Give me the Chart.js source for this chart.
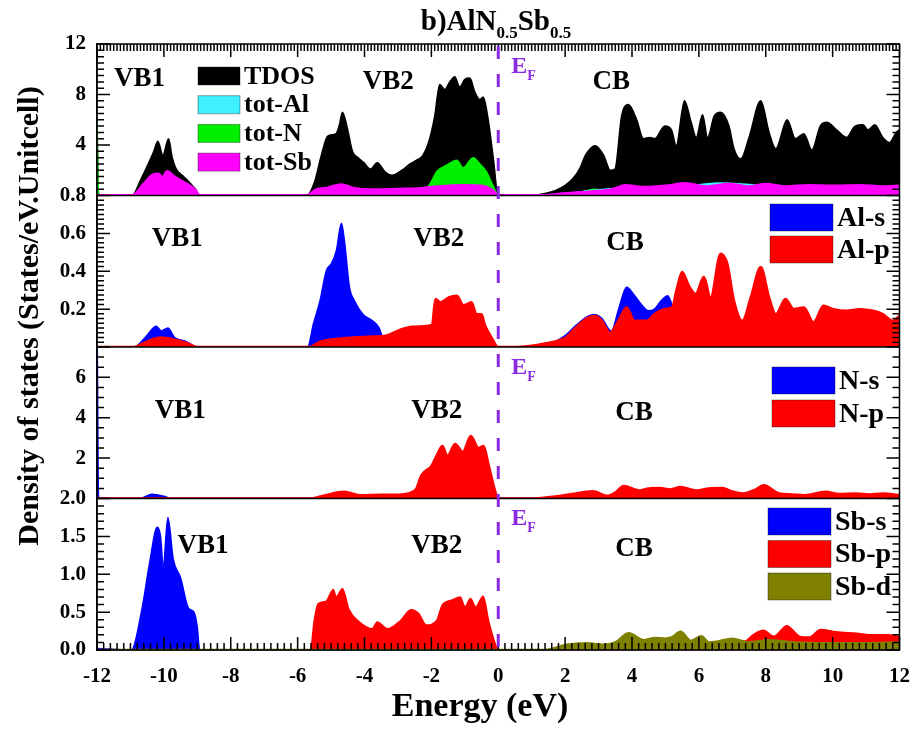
<!DOCTYPE html>
<html>
<head>
<meta charset="utf-8">
<script src="https://cdn.jsdelivr.net/npm/chart.js@4.4.0/dist/chart.umd.min.js"></script>
<style>
  html, body { margin: 0; padding: 0; background: #fff; }
  #wrap { width: 924px; height: 733px; }
</style>
</head>
<body>
<div id="wrap"><canvas id="dos" width="924" height="733"></canvas></div>
<script>
// energy ticks (eV)
const energyTicks = [-12, -10, -8, -6, -4, -2, 0, 2, 4, 6, 8, 10, 12];

// panel 1: total DOS, [energy, states]
const tdos = [[-12,5.8],[-11.95,0],[-10.95,0],[-10.7,1.2],[-10.45,2.6],[-10.3,3.5],[-10.18,4.3],[-10.03,3.2],[-9.86,4.5],[-9.75,3.0],[-9.63,2.1],[-9.45,1.6],[-9.33,1.3],[-9.15,0.8],[-9.05,0.5],[-8.95,0],
  [-5.72,0],[-5.49,1.1],[-5.29,3.2],[-5.1,4.7],[-4.85,4.9],[-4.75,5.6],[-4.66,6.6],[-4.51,5.3],[-4.36,3.5],[-4.2,3.0],[-4.02,2.6],[-3.82,2.1],[-3.62,2.6],[-3.38,1.85],[-3.18,1.6],[-2.88,2.0],[-2.64,2.5],[-2.44,2.8],[-2.25,3.2],[-2.05,4.5],[-1.9,6.3],[-1.75,8.8],[-1.6,8.4],[-1.45,9.0],[-1.3,9.4],[-1.15,8.6],[-1.0,9.2],[-0.85,9.3],[-0.7,8.2],[-0.55,7.6],[-0.45,7.8],[-0.3,6.0],[-0.15,3.0],[0,0],
  [1.0,0],[1.4,0.15],[1.72,0.4],[2.0,0.8],[2.22,1.3],[2.45,2.2],[2.61,3.2],[2.9,3.95],[3.15,3.2],[3.35,2.0],[3.49,2.1],[3.69,6.3],[3.89,7.2],[4.14,6.0],[4.34,4.5],[4.53,4.6],[4.68,4.5],[4.98,5.5],[5.18,5.2],[5.32,3.95],[5.57,7.5],[5.77,5.8],[5.92,4.6],[6.11,6.4],[6.26,4.6],[6.46,6.3],[6.65,6.6],[6.9,5.5],[7.05,3.7],[7.25,2.9],[7.5,4.6],[7.85,7.5],[8.1,5.0],[8.3,3.7],[8.64,6.0],[8.89,4.5],[9.14,4.9],[9.38,3.6],[9.63,5.5],[9.83,5.8],[10.12,5.2],[10.42,4.6],[10.67,5.5],[10.91,5.6],[11.06,5.2],[11.26,5.6],[11.5,4.6],[11.7,4.2],[11.9,5.0],[12,5.2]];
const totAl = [[-12,0],[-10.9,0],[-10.1,0.3],[-9.0,0],[-5.7,0],[-4.7,0.6],[-3.5,0.3],[-2.0,0.4],[-0.5,0.4],[0,0],[1.5,0],[2.8,0.4],[3.8,0.6],[5.0,0.6],[6.6,1.0],[7.8,0.8],[9.0,0.6],[10.0,0.6],[12,0.5]];
const totN = [[-12,5.8],[-11.95,0],[-10.9,0],[-10.2,0.15],[-9.0,0],[-5.7,0],[-5.3,0.2],[-4.6,0.35],[-4.0,0.2],[-3.0,0.25],[-2.45,0.3],[-2.13,0.6],[-1.98,1.2],[-1.84,1.9],[-1.54,2.4],[-1.24,2.8],[-1.05,2.2],[-0.75,3.0],[-0.55,2.5],[-0.36,1.9],[-0.16,0.8],[0,0],[1.5,0],[2.5,0.3],[2.9,0.5],[3.3,0.3],[4.0,0.5],[5.0,0.5],[6.0,0.55],[6.6,0.9],[7.0,0.5],[8.0,0.6],[9.0,0.5],[10.0,0.5],[11.0,0.5],[12,0.5]];
const totSb = [[-12,0],[-10.95,0],[-10.6,0.9],[-10.35,1.6],[-10.15,1.7],[-10.05,1.4],[-9.9,1.9],[-9.7,1.5],[-9.45,1.1],[-9.25,0.8],[-9.05,0.4],[-8.95,0],[-5.72,0],[-5.45,0.45],[-5.1,0.6],[-4.7,0.85],[-4.3,0.55],[-3.8,0.45],[-3.0,0.5],[-2.3,0.55],[-1.8,0.7],[-1.0,0.8],[-0.5,0.75],[-0.2,0.45],[0,0],[1.3,0],[2.0,0.15],[2.8,0.3],[3.4,0.45],[3.8,0.8],[4.3,0.65],[5.0,0.75],[5.6,0.95],[6.2,0.7],[6.9,0.9],[7.5,0.7],[8.0,0.9],[8.6,0.7],[9.3,0.8],[10.0,0.75],[10.8,0.8],[11.5,0.7],[12,0.75]];

// panel 2: Al partial DOS
const alS = [[-12,0],[-10.9,0],[-10.52,0.058],[-10.23,0.11],[-10.08,0.085],[-9.88,0.1],[-9.68,0.05],[-9.34,0.03],[-9.0,0],[-5.7,0],[-5.53,0.12],[-5.33,0.244],[-5.14,0.404],[-4.99,0.44],[-4.84,0.51],[-4.69,0.653],[-4.6,0.56],[-4.45,0.316],[-4.3,0.244],[-4.05,0.173],[-3.76,0.138],[-3.56,0.1],[-3.46,0.05],[-3.3,0.03],[-2.0,0.03],[-0.5,0.02],[0,0],[1.0,0],[1.6,0.02],[2.0,0.06],[2.3,0.11],[2.7,0.164],[2.9,0.17],[3.1,0.15],[3.38,0.084],[3.6,0.2],[3.84,0.316],[4.08,0.271],[4.3,0.22],[4.48,0.191],[4.67,0.2],[4.87,0.244],[5.07,0.271],[5.27,0.18],[5.5,0.08],[6.5,0.06],[8.0,0.05],[10.0,0.05],[12,0.05]];
const alP = [[-12,0],[-10.9,0],[-10.5,0.03],[-10.1,0.05],[-9.7,0.04],[-9.3,0.02],[-9.0,0],[-5.65,0],[-5.33,0.028],[-4.7,0.045],[-3.9,0.054],[-3.36,0.06],[-2.96,0.089],[-2.57,0.107],[-1.98,0.116],[-1.88,0.253],[-1.73,0.236],[-1.48,0.262],[-1.24,0.27],[-1.04,0.22],[-0.8,0.236],[-0.65,0.173],[-0.5,0.173],[-0.4,0.116],[-0.2,0.05],[0,0],[0.55,0],[1.43,0.02],[2.0,0.048],[2.3,0.1],[2.7,0.156],[2.9,0.164],[3.1,0.138],[3.34,0.075],[3.59,0.138],[3.84,0.209],[4.08,0.138],[4.43,0.138],[4.67,0.173],[4.96,0.2],[5.2,0.209],[5.33,0.3],[5.5,0.396],[5.7,0.324],[5.9,0.28],[6.15,0.369],[6.35,0.26],[6.65,0.493],[6.85,0.44],[7.05,0.244],[7.3,0.138],[7.55,0.26],[7.85,0.422],[8.1,0.262],[8.3,0.173],[8.59,0.253],[8.84,0.2],[9.14,0.209],[9.43,0.13],[9.73,0.218],[10.02,0.2],[10.42,0.191],[10.81,0.2],[11.21,0.191],[11.5,0.173],[11.8,0.138],[12,0.164]];

// panel 3: N partial DOS
const nS = [[-12,7.5],[-11.96,0],[-10.7,0],[-10.35,0.2],[-10.0,0.1],[-9.8,0],[12,0]];
const nP = [[-12,0],[-5.6,0],[-5.2,0.15],[-4.61,0.33],[-4.14,0.16],[-3.5,0.18],[-2.9,0.2],[-2.6,0.3],[-2.45,0.49],[-2.3,1.14],[-1.99,1.63],[-1.82,2.2],[-1.67,2.6],[-1.52,2.1],[-1.29,2.7],[-1.06,2.3],[-0.82,3.1],[-0.59,2.5],[-0.44,2.6],[-0.28,1.6],[-0.05,0.15],[0.05,0],[1.1,0],[1.7,0.1],[2.2,0.22],[2.82,0.36],[3.28,0.13],[3.5,0.3],[3.75,0.62],[4.21,0.4],[4.5,0.5],[4.83,0.52],[5.15,0.45],[5.45,0.57],[5.92,0.4],[6.3,0.5],[6.7,0.52],[7.0,0.35],[7.32,0.25],[7.7,0.45],[7.94,0.65],[8.4,0.25],[8.8,0.2],[9.17,0.16],[9.79,0.33],[10.2,0.22],[10.72,0.25],[11.1,0.2],[11.5,0.25],[12,0.16]];

// panel 4: Sb partial DOS
const sbS = [[-12,0.02],[-10.97,0],[-10.66,0.53],[-10.43,1.14],[-10.2,1.62],[-10.1,1.5],[-10.02,1.1],[-9.88,1.75],[-9.72,1.2],[-9.5,0.95],[-9.26,0.55],[-9.1,0.5],[-9.0,0.3],[-8.93,0],[-5.7,0],[-3.0,0.02],[0,0],[12,0]];
const sbP = [[-12,0],[-5.62,0],[-5.5,0.4],[-5.39,0.61],[-5.16,0.64],[-4.93,0.8],[-4.85,0.7],[-4.66,0.81],[-4.46,0.53],[-4.15,0.37],[-3.77,0.28],[-3.62,0.37],[-3.31,0.28],[-2.92,0.39],[-2.61,0.53],[-2.38,0.48],[-2.15,0.33],[-1.84,0.39],[-1.68,0.59],[-1.37,0.66],[-1.14,0.7],[-0.99,0.57],[-0.83,0.68],[-0.68,0.57],[-0.45,0.71],[-0.29,0.39],[-0.14,0.15],[0.01,0],[1.5,0],[3.0,0.05],[5.0,0.08],[7.0,0.08],[7.16,0.11],[7.4,0.12],[7.62,0.2],[7.93,0.26],[8.24,0.18],[8.63,0.32],[9.02,0.18],[9.3,0.17],[9.64,0.27],[10.1,0.24],[10.72,0.22],[11.19,0.2],[11.65,0.2],[12,0.18]];
const sbD = [[-12,0],[1.4,0],[2.04,0.07],[2.66,0.09],[3.12,0.07],[3.5,0.1],[3.9,0.22],[4.36,0.13],[4.7,0.16],[4.98,0.15],[5.2,0.17],[5.45,0.24],[5.76,0.12],[6.07,0.18],[6.3,0.1],[6.53,0.11],[7.0,0.15],[7.46,0.1],[8.08,0.13],[8.85,0.1],[9.78,0.09],[11.02,0.09],[12,0.1]];

// y ticks shown per panel
const p1Ticks = [4, 8, 12];
const p2Ticks = [0.2, 0.4, 0.6, 0.8];
const p3Ticks = [2, 4, 6];
const p4Ticks = [0, 0.5, 1.0, 1.5, 2.0];

const SERIF = 'Liberation Serif, Times New Roman, serif';
const EF_COLOR = '#8a2be2';

function series(label, pts, color, axis, order, width) {
  return {
    label,
    data: pts.map(p => ({ x: p[0], y: p[1] })),
    yAxisID: axis,
    order,
    borderColor: color,
    backgroundColor: color,
    borderWidth: width || 1.5,
    fill: 'origin',
    pointRadius: 0,
    cubicInterpolationMode: 'monotone'
  };
}

function yAxis(min, max, ticks, digits) {
  return {
    type: 'linear',
    position: 'left',
    stack: 'dos',
    stackWeight: 1,
    min, max,
    afterBuildTicks: s => { s.ticks = ticks.map(v => ({ value: v })); },
    afterFit: s => { s.width = 97; },
    grid: { display: false, drawTicks: false },
    border: { color: '#000', width: 1.5 },
    ticks: {
      color: '#000', padding: 11, autoSkip: false,
      font: { family: SERIF, weight: 'bold', size: 21 },
      callback: v => digits ? Number(v).toFixed(digits) : String(v)
    }
  };
}

// legend entries per panel
const legends = [
  { x: 198, y: 67, w: 42, h: 18, step: 28.7, size: 26, items: [['TDOS', '#000000'], ['tot-Al', '#3ff0ff'], ['tot-N', '#00f000'], ['tot-Sb', '#ff00ff']] },
  { x: 770, y: 204, w: 63, h: 27, step: 32, size: 28, items: [['Al-s', '#0000ff'], ['Al-p', '#ff0000']] },
  { x: 772, y: 367, w: 63, h: 27, step: 33, size: 28, items: [['N-s', '#0000ff'], ['N-p', '#ff0000']] },
  { x: 768, y: 508, w: 63, h: 27, step: 32.5, size: 28, items: [['Sb-s', '#0000ff'], ['Sb-p', '#ff0000'], ['Sb-d', '#808000']] }
];

// band labels: [axis, text, energy, value]
const bandLabels = [
  ['d1', 'VB1', -10.73, 9.25], ['d1', 'VB2', -3.29, 9.0], ['d1', 'CB', 3.38, 9.0],
  ['d2', 'VB1', -9.6, 0.57], ['d2', 'VB2', -1.78, 0.57], ['d2', 'CB', 3.79, 0.55],
  ['d3', 'VB1', -9.51, 4.34], ['d3', 'VB2', -1.84, 4.34], ['d3', 'CB', 4.06, 4.24],
  ['d4', 'VB1', -8.83, 1.37], ['d4', 'VB2', -1.84, 1.37], ['d4', 'CB', 4.06, 1.33]
];
// Fermi level labels: [axis, value]
const efLabels = [['d1', 10.3], ['d3', 6.56], ['d4', 1.75]];

function richText(ctx, x, y, parts, size, color, align) {
  const subSize = Math.round(size * 0.6);
  let total = 0;
  parts.forEach(([t, sub]) => {
    ctx.font = `bold ${sub ? subSize : size}px ${SERIF}`;
    total += ctx.measureText(t).width;
  });
  let cx = align === 'center' ? x - total / 2 : x;
  ctx.fillStyle = color;
  ctx.textAlign = 'left';
  ctx.textBaseline = 'alphabetic';
  parts.forEach(([t, sub]) => {
    ctx.font = `bold ${sub ? subSize : size}px ${SERIF}`;
    ctx.fillText(t, cx, sub ? y + size * 0.28 : y);
    cx += ctx.measureText(t).width;
  });
}

const decor = {
  id: 'decor',
  afterDatasetsDraw(chart) {
    const { ctx, chartArea: ca, scales } = chart;
    const panels = ['d1', 'd2', 'd3', 'd4'];
    const minor = { d1: 0.5, d2: 0.025, d3: 0.5, d4: 0.1 };
    const major = { d1: 4, d2: 0.2, d3: 2, d4: 0.5 };
    ctx.save();
    ctx.strokeStyle = '#000';
    ctx.lineWidth = 1.5;
    ctx.strokeRect(ca.left, ca.top, ca.width, ca.height);
    ctx.beginPath();
    panels.slice(0, 3).forEach(id => {
      const y = scales[id].bottom;
      ctx.moveTo(ca.left, y); ctx.lineTo(ca.right, y);
    });
    ctx.stroke();

    // inward ticks on left and right edges
    ctx.lineWidth = 1.5;
    ctx.beginPath();
    panels.forEach(id => {
      const s = scales[id];
      const n = Math.round((s.max - s.min) / minor[id]);
      const every = Math.round(major[id] / minor[id]);
      for (let k = 0; k <= n; k++) {
        const py = s.getPixelForValue(s.min + k * minor[id]);
        const len = k % every === 0 ? 13 : 7;
        ctx.moveTo(ca.left, py); ctx.lineTo(ca.left + len, py);
        ctx.moveTo(ca.right, py); ctx.lineTo(ca.right - len, py);
      }
    });
    // inward ticks on top and bottom edges
    const xs = scales.x;
    for (let k = 0; k <= 240; k++) {
      const px = xs.getPixelForValue(-12 + k * 0.1);
      const len = k % 20 === 0 ? 13 : 7;
      ctx.moveTo(px, ca.top); ctx.lineTo(px, ca.top + len);
    }
    for (let k = 0; k <= 120; k++) {
      const px = xs.getPixelForValue(-12 + k * 0.2);
      const len = k % 10 === 0 ? 13 : 7;
      ctx.moveTo(px, ca.bottom); ctx.lineTo(px, ca.bottom - len);
    }
    ctx.stroke();

    // Fermi level
    const x0 = xs.getPixelForValue(0);
    ctx.strokeStyle = EF_COLOR;
    ctx.lineWidth = 3;
    ctx.setLineDash([13, 15]);
    ctx.beginPath();
    ctx.moveTo(x0, ca.top + 2); ctx.lineTo(x0, ca.bottom);
    ctx.stroke();
    ctx.setLineDash([]);
    efLabels.forEach(([id, v]) => {
      richText(ctx, xs.getPixelForValue(0.39), scales[id].getPixelForValue(v) + 8, [['E', false], ['F', true]], 24, EF_COLOR, 'left');
    });

    // band labels
    ctx.fillStyle = '#000';
    ctx.textAlign = 'center';
    ctx.textBaseline = 'middle';
    ctx.font = `bold 27px ${SERIF}`;
    bandLabels.forEach(([id, t, e, v]) => {
      ctx.fillText(t, xs.getPixelForValue(e), scales[id].getPixelForValue(v));
    });

    // legends
    legends.forEach(lg => {
      lg.items.forEach(([t, c], i) => {
        const y = lg.y + i * lg.step;
        ctx.fillStyle = c;
        ctx.fillRect(lg.x, y, lg.w, lg.h);
        ctx.strokeStyle = 'rgba(0,0,0,0.35)';
        ctx.lineWidth = 1;
        ctx.strokeRect(lg.x, y, lg.w, lg.h);
        ctx.fillStyle = '#000';
        ctx.textAlign = 'left';
        ctx.textBaseline = 'middle';
        ctx.font = `bold ${lg.size}px ${SERIF}`;
        ctx.fillText(t, lg.x + lg.w + 4, y + lg.h / 2 + 1);
      });
    });

    // titles
    richText(ctx, 496, 30, [['b)AlN', false], ['0.5', true], ['Sb', false], ['0.5', true]], 29, '#000', 'center');
    ctx.fillStyle = '#000';
    ctx.textAlign = 'center';
    ctx.textBaseline = 'middle';
    ctx.font = `bold 34px ${SERIF}`;
    ctx.fillText('Energy (eV)', 480, 707);
    ctx.font = `bold 30px ${SERIF}`;
    ctx.save();
    ctx.translate(30, 316);
    ctx.rotate(-Math.PI / 2);
    ctx.fillText('Density of states (States/eV.Unitcell)', 0, 0);
    ctx.restore();
    ctx.restore();
  }
};

new Chart(document.getElementById('dos'), {
  type: 'line',
  data: {
    datasets: [
      series('TDOS', tdos, '#000000', 'd1', 4, 1.5),
      series('tot-N', totN, '#00f000', 'd1', 3, 1.5),
      series('tot-Al', totAl, '#3ff0ff', 'd1', 2, 1.5),
      series('tot-Sb', totSb, '#ff00ff', 'd1', 1, 3),
      series('Al-s', alS, '#0000ff', 'd2', 2, 1.5),
      series('Al-p', alP, '#ff0000', 'd2', 1, 2.5),
      series('N-s', nS, '#0000ff', 'd3', 2, 2),
      series('N-p', nP, '#ff0000', 'd3', 1, 2.5),
      series('Sb-s', sbS, '#0000ff', 'd4', 3, 1.5),
      series('Sb-p', sbP, '#ff0000', 'd4', 2, 1.5),
      series('Sb-d', sbD, '#808000', 'd4', 1, 2.5)
    ]
  },
  options: {
    responsive: false,
    animation: false,
    devicePixelRatio: 1,
    layout: { padding: { left: 0, right: 17, top: 44, bottom: 0 } },
    plugins: { legend: { display: false }, tooltip: { enabled: false } },
    scales: {
      x: {
        type: 'linear', min: -12, max: 12,
        afterBuildTicks: s => { s.ticks = energyTicks.map(v => ({ value: v })); },
        afterFit: s => { s.height = 83; },
        grid: { display: false, drawTicks: false },
        border: { color: '#000', width: 1.5 },
        ticks: { color: '#000', padding: 14, autoSkip: false, maxRotation: 0, font: { family: SERIF, weight: 'bold', size: 21 } }
      },
      d4: yAxis(0, 2, p4Ticks, 1),
      d3: yAxis(0, 7.5, p3Ticks, 0),
      d2: yAxis(0, 0.8, p2Ticks, 1),
      d1: yAxis(0, 12, p1Ticks, 0)
    }
  },
  plugins: [decor]
});
</script>
</body>
</html>
